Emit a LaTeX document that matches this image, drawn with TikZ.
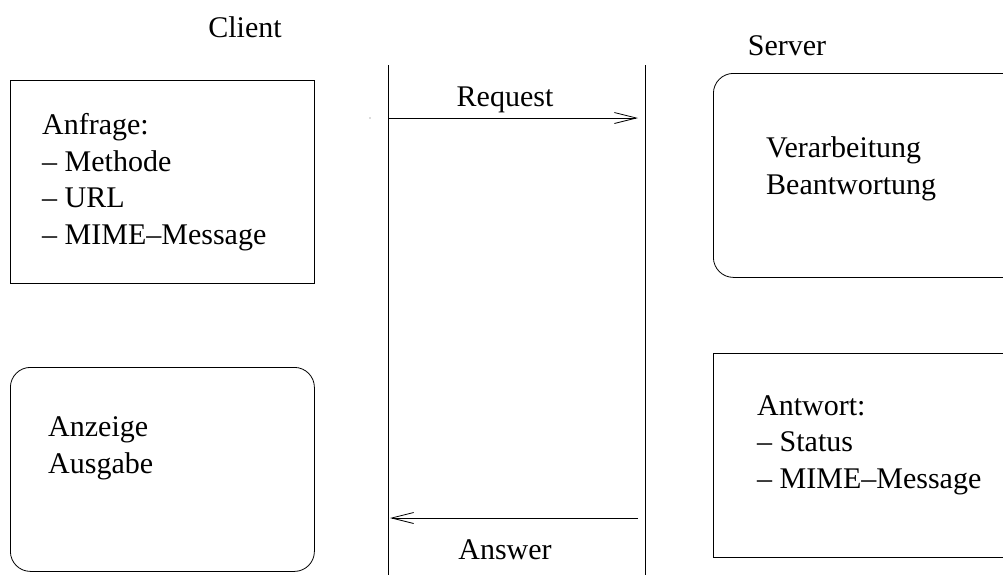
\documentclass[tikz,border=0pt]{standalone}
\usepackage{fontspec}
\setmainfont{Liberation Serif}
\usetikzlibrary{arrows.meta}

\tikzset{
  lbl/.style={font=\fontsize{30}{36.5}\selectfont, inner sep=0pt},
  txtbox/.style={lbl, align=left, anchor=north west},
  plainbox/.style={draw, line width=0.8pt, anchor=north west, inner sep=0pt},
  roundbox/.style={plainbox, rounded corners=20pt},
  lifeline/.style={line width=0.8pt},
  msg/.style={line width=0.8pt, -{Straight Barb[length=22pt,width=11pt]}},
}

\begin{document}
\begin{tikzpicture}[x=1pt,y=-1pt]
		%%%%% START %%%%%
		\clip (0,0) rectangle (1003,574);
		
		\node[lbl, anchor=base] (client) at (245,37) {Client};
		\node[lbl, anchor=base] (server) at (787,55) {Server};
		
		\coordinate (ctop) at (388,65);
		\coordinate (cbot) at (388,580);
		\coordinate (stop) at (645,65);
		\coordinate (sbot) at (645,580);
		\draw[lifeline] (ctop) -- (cbot);
		\draw[lifeline] (stop) -- (sbot);
		
		\coordinate (dot) at (370,118);
		\fill[black!60] (dot) circle (0.7pt);
		
		\coordinate (reqa) at (388,118);
		\coordinate (reqb) at (638,118);
		\draw[msg] (reqa) -- (reqb);
		\node[lbl, anchor=base] (req) at (505,106) {Request};
		
		\coordinate (ansa) at (638,518);
		\coordinate (ansb) at (390,518);
		\draw[msg] (ansa) -- (ansb);
		\node[lbl, anchor=base] (ans) at (505,559) {Answer};
		
		\node[plainbox, minimum width=304pt, minimum height=203pt] (anfrage) at (10,80) {};
		\node[txtbox] (anfragetxt) at (42,113.5) {Anfrage:\\-- Methode\\-- URL\\-- MIME--Message};
		
		\node[roundbox, minimum width=304pt, minimum height=204pt] (anzeige) at (10,367) {};
		\node[txtbox] (anzeigetxt) at (48,416.5) {Anzeige\\Ausgabe};
		
		\node[roundbox, minimum width=320pt, minimum height=204pt] (verarb) at (713,73) {};
		\node[txtbox] (verarbtxt) at (766,136.5) {Verarbeitung\\Beantwortung};
		
		\node[plainbox, minimum width=320pt, minimum height=204pt] (antwort) at (713,353) {};
		\node[txtbox] (antworttxt) at (757,395) {Antwort:\\-- Status\\-- MIME--Message};
		%%%%% END %%%%%
\end{tikzpicture}
\end{document}
